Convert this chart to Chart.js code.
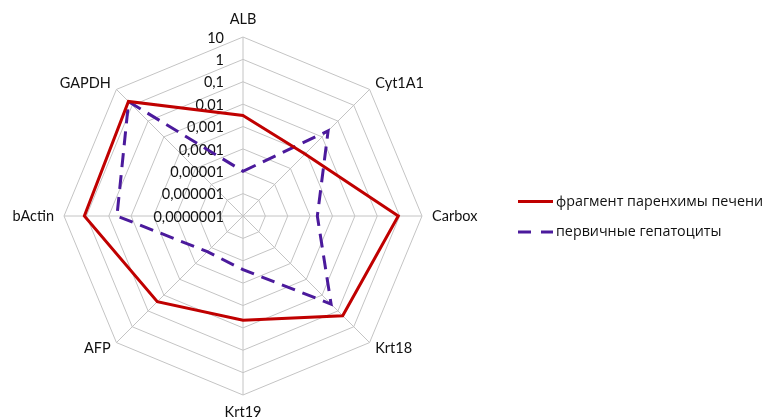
<!DOCTYPE html>
<html><head><meta charset="utf-8">
<script src="https://cdn.jsdelivr.net/npm/chart.js@4/dist/chart.umd.min.js"></script>
<style>html,body{margin:0;padding:0;background:#fff}#wrap{width:762px;height:418px;position:relative}</style>
</head><body><div id="wrap"><canvas id="c" width="762" height="418"></canvas></div>
<script>
const categories = ['ALB', 'Cyt1A1', 'Carbox', 'Krt18', 'Krt19', 'AFP', 'bActin', 'GAPDH'];
const seriesNames = ['фрагмент паренхимы печени', 'первичные гепатоциты'];
const parenchymaValues = [0.0031, 0.00083, 0.87, 0.2, 0.0046, 0.026, 1.23, 1.74];
const hepatocyteValues = [0.00001, 0.024, 0.00021, 0.037, 0.000025, 0.000018, 0.043, 1.7];
const tickValues = [0.0000001, 0.000001, 0.00001, 0.0001, 0.001, 0.01, 0.1, 1, 10];
const tickLabels = ['0,0000001', '0,000001', '0,00001', '0,0001', '0,001', '0,01', '0,1', '1', '10'];

const RED = '#c00000';
const PURPLE = '#4b1a9c';
const TEXT = '#111111';
const LABEL_FONT = '14.5px Lato, "Open Sans", sans-serif';
const LEGEND_FONT = '14.3px "Open Sans", "Noto Sans", sans-serif';

const labelsPlugin = {
  id: 'customLabels',
  beforeDatasetsDraw(chart) {
    const s = chart.scales.r;
    const ctx = chart.ctx;
    ctx.save();
    ctx.font = LABEL_FONT;
    ctx.fillStyle = TEXT;
    ctx.textAlign = 'right';
    ctx.textBaseline = 'middle';
    tickValues.forEach((v, i) => {
      const d = s.getDistanceFromCenterForValue(Math.log10(v));
      ctx.fillText(tickLabels[i], s.xCenter - 19, s.yCenter - d + 1);
    });
    ctx.restore();
  },
  afterDraw(chart) {
    const s = chart.scales.r;
    const ctx = chart.ctx;
    ctx.save();
    ctx.font = LABEL_FONT;
    ctx.fillStyle = TEXT;
    ctx.textBaseline = 'middle';
    const R = s.drawingArea;
    categories.forEach((c, i) => {
      const deg = i * 45;
      let p, align;
      if (deg === 0) { p = s.getPointPosition(i, R + 18); align = 'center'; }
      else if (deg === 180) { p = s.getPointPosition(i, R + 17); align = 'center'; }
      else if (deg === 90) { p = s.getPointPosition(i, R + 10); align = 'left'; }
      else if (deg === 270) { p = s.getPointPosition(i, R + 10); align = 'right'; }
      else { p = s.getPointPosition(i, R + 8); align = deg < 180 ? 'left' : 'right'; }
      ctx.textAlign = align;
      ctx.fillText(c, p.x, p.y);
    });
    // legend
    const items = [
      {name: seriesNames[0], color: RED, dash: [], y: 201.5},
      {name: seriesNames[1], color: PURPLE, dash: [13, 10], y: 232}
    ];
    items.forEach(it => {
      ctx.beginPath();
      ctx.setLineDash(it.dash);
      ctx.strokeStyle = it.color;
      ctx.lineWidth = 3;
      ctx.moveTo(518, it.y);
      ctx.lineTo(553, it.y);
      ctx.stroke();
      ctx.setLineDash([]);
      ctx.font = LEGEND_FONT;
      ctx.fillStyle = TEXT;
      ctx.textAlign = 'left';
      ctx.fillText(it.name, 556, it.y);
    });
    ctx.restore();
  }
};

new Chart(document.getElementById('c'), {
  type: 'radar',
  data: {
    labels: categories,
    datasets: [
      {label: seriesNames[0], data: parenchymaValues.map(Math.log10), borderColor: RED, backgroundColor: RED,
       borderWidth: 3, fill: false, pointRadius: 0, pointHoverRadius: 0, tension: 0, borderJoinStyle: 'miter'},
      {label: seriesNames[1], data: hepatocyteValues.map(Math.log10), borderColor: PURPLE, backgroundColor: PURPLE,
       borderWidth: 3, borderDash: [14, 8], fill: false, pointRadius: 0, pointHoverRadius: 0, tension: 0, borderJoinStyle: 'miter'}
    ]
  },
  options: {
    responsive: false,
    animation: false,
    devicePixelRatio: 1,
    layout: {padding: {left: 64, right: 340, top: 37, bottom: 23}},
    plugins: {legend: {display: false}, tooltip: {enabled: false}},
    scales: {
      r: {
        min: -7, max: 1,
        startAngle: 0,
        ticks: {display: false, stepSize: 1},
        grid: {circular: false, color: '#c4c4c4', lineWidth: 1},
        angleLines: {display: true, color: '#c4c4c4', lineWidth: 1},
        pointLabels: {display: false}
      }
    }
  },
  plugins: [labelsPlugin]
});
</script>
</body></html>
